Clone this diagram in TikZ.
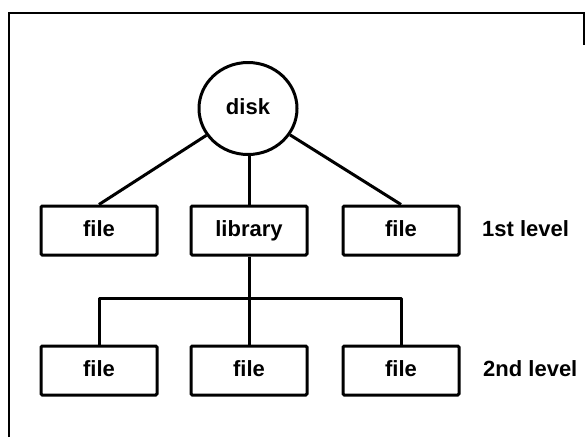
\documentclass[tikz,border=0pt]{standalone}
\usepackage{fontspec}
\setmainfont{Liberation Sans}
\usetikzlibrary{shapes.geometric}

\begin{document}
\begin{tikzpicture}[x=1pt, y=-1pt,
  every node/.style={font=\bfseries\fontsize{22}{26}\selectfont},
  box/.style={draw, line width=3pt, rounded corners=1.2pt, minimum width=116pt,
              minimum height=49pt, inner sep=0pt, text height=16pt, text depth=4pt},
  link/.style={line width=3pt, line join=round},
  frame/.style={line width=2pt},
  levellabel/.style={anchor=west, inner sep=0pt, text height=16pt, text depth=4pt}]

  \useasboundingbox (0,0) rectangle (585,437);

  % outer frame (top-left part of a page border)
  \draw[frame] (9,437) -- (9,13) -- (584,13) -- (584,45);

  % root of the tree
  \node[draw, ellipse, line width=3pt, minimum width=98pt, minimum height=92pt,
        inner sep=0pt, text height=16pt, text depth=4pt] (disk) at (248,108.5) {disk};

  % first level
  \node[box] (f1)  at (99,230.5)  {file};
  \node[box] (lib) at (249,230.5) {library};
  \node[box] (f3)  at (401,230.5) {file};

  % second level
  \node[box] (g1) at (99,370.5)  {file};
  \node[box] (g2) at (249,370.5) {file};
  \node[box] (g3) at (401,370.5) {file};

  % level labels
  \node[levellabel] (l1) at (482,230.5) {1st level};
  \node[levellabel] (l2) at (483,370.5) {2nd level};

  % connectors from the disk
  \draw[link] (disk) -- (f1.north);
  \draw[link] (disk) -- (f3.north);
  \draw[link] (lib.north) -- (lib.north |- disk.south);

  % connectors from the library
  \coordinate (bus) at (249,298);
  \draw[link] (lib.south) -- (bus);
  \draw[link] (g1.north) |- (bus) -| (g3.north);
  \draw[link] (bus) -- (g2.north);
\end{tikzpicture}
\end{document}
